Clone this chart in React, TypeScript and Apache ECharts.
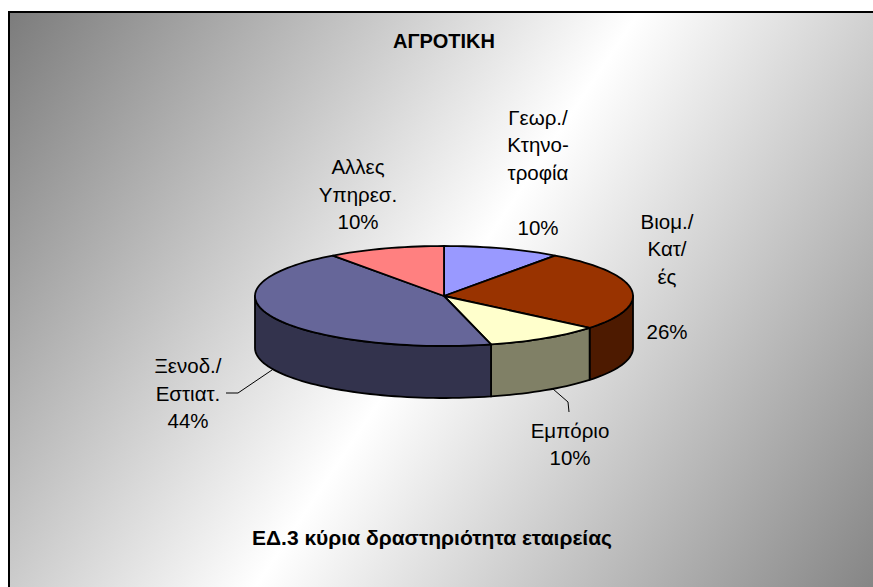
import React, { useEffect, useRef } from 'react';
import * as echarts from 'echarts';

const TITLE = 'ΑΓΡΟΤΙΚΗ';
const SUBTITLE = 'ΕΔ.3 κύρια δραστηριότητα εταιρείας';
const CATEGORIES = ['Γεωρ./\nΚτηνο-\nτροφία', 'Βιομ./\nΚατ/\nές', 'Εμπόριο', 'Ξενοδ./\nΕστιατ.', 'Αλλες\nΥπηρεσ.'];
const VALUES = [10, 26, 10, 44, 10];
const COLORS = ['#9999FF', '#993300', '#FFFFCC', '#666699', '#FF8080'];

// layout (not data)
const PIE = { cx: 444, cy: 296, rx: 189, ry: 50, depth: 52 };
const LABEL_LAYOUT = [
  { x: 538, y: 172, gap: true },
  { x: 667, y: 276, gap: true },
  { x: 570, y: 444, gap: false },
  { x: 188, y: 393, gap: false },
  { x: 358, y: 194, gap: false },
];
const LEADERS: number[][][] = [
  [],
  [],
  [[553, 389], [568, 402], [569, 412]],
  [[226, 393], [238, 393], [272, 370]],
  [],
];
const FONT = '"Liberation Sans", Arial, Helvetica, sans-serif';

function shade(hex: string, f: number): string {
  const n = parseInt(hex.slice(1), 16);
  const r = Math.round(((n >> 16) & 255) * f);
  const g = Math.round(((n >> 8) & 255) * f);
  const b = Math.round((n & 255) * f);
  return `rgb(${r},${g},${b})`;
}

const TOTAL = VALUES.reduce((s, v) => s + v, 0);
const STARTS: number[] = [];
VALUES.reduce((acc, v, i) => {
  STARTS[i] = acc;
  return acc + v;
}, 0);

function pt(tDeg: number, dz: number): number[] {
  const t = (tDeg * Math.PI) / 180;
  return [PIE.cx + PIE.rx * Math.sin(t), PIE.cy - PIE.ry * Math.cos(t) + dz];
}

function arc(a: number, b: number, dz: number): number[][] {
  const pts: number[][] = [];
  const steps = Math.max(2, Math.ceil((b - a) / 2));
  for (let k = 0; k <= steps; k++) pts.push(pt(a + ((b - a) * k) / steps, dz));
  return pts;
}

function renderItem(params: any, api: any) {
  const i = params.dataIndex;
  const v = api.value(0);
  const a = (STARTS[i] / TOTAL) * 360;
  const b = a + (v / TOTAL) * 360;
  const children: any[] = [];
  const edge = { stroke: '#000', lineWidth: 1.8, lineJoin: 'round' };

  const a2 = Math.max(a, 90);
  const b2 = Math.min(b, 270);
  if (a2 < b2) {
    const top = arc(a2, b2, 0);
    const bottom = arc(a2, b2, PIE.depth).reverse();
    children.push({
      type: 'polygon',
      shape: { points: top.concat(bottom) },
      style: { fill: shade(COLORS[i], 0.5), ...edge },
    });
  }
  children.push({
    type: 'polygon',
    shape: { points: [[PIE.cx, PIE.cy]].concat(arc(a, b, 0)) },
    style: { fill: COLORS[i], ...edge },
  });

  const pct = Math.round((v / TOTAL) * 100) + '%';
  const lay = LABEL_LAYOUT[i];
  children.push({
    type: 'text',
    style: {
      text: CATEGORIES[i] + (lay.gap ? '\n\n' : '\n') + pct,
      x: lay.x,
      y: lay.y,
      align: 'center',
      verticalAlign: 'middle',
      fontSize: 20.5,
      fontFamily: FONT,
      lineHeight: 27.5,
      fill: '#000',
    },
  });
  if (LEADERS[i].length) {
    children.push({
      type: 'polyline',
      shape: { points: LEADERS[i] },
      style: { stroke: '#000', lineWidth: 1, fill: null },
    });
  }
  return { type: 'group', children };
}

export default function App() {
  const ref = useRef<HTMLDivElement>(null);
  useEffect(() => {
    if (!ref.current) return;
    const chart = echarts.init(ref.current, null, { renderer: 'svg' });
    chart.setOption({
      animation: false,
      graphic: [
        {
          type: 'rect',
          z: -10,
          silent: true,
          shape: { x: 9, y: 12, width: 1000, height: 700 },
          style: {
            fill: new echarts.graphic.LinearGradient(
              9,
              12,
              881,
              594,
              [
                { offset: 0, color: '#7c7c7c' },
                { offset: 0.5, color: '#ffffff' },
                { offset: 1, color: '#838383' },
              ],
              true
            ),
          },
        },
        {
          type: 'polyline',
          z: -9,
          silent: true,
          shape: { points: [[9, 700], [9, 12], [1000, 12]] },
          style: { stroke: '#000', lineWidth: 2, fill: null },
        },
        {
          type: 'text',
          z: 10,
          style: {
            text: TITLE,
            x: 444,
            y: 41,
            align: 'center',
            verticalAlign: 'middle',
            fontSize: 20,
            fontWeight: 'bold',
            fontFamily: FONT,
            fill: '#000',
          },
        },
        {
          type: 'text',
          z: 10,
          style: {
            text: SUBTITLE,
            x: 432,
            y: 537,
            align: 'center',
            verticalAlign: 'middle',
            fontSize: 21,
            fontWeight: 'bold',
            fontFamily: FONT,
            fill: '#000',
          },
        },
      ],
      series: [
        {
          type: 'custom',
          coordinateSystem: 'none',
          renderItem,
          data: VALUES,
          z: 2,
        },
      ],
    });
    return () => chart.dispose();
  }, []);
  return (
    <div
      ref={ref}
      style={{ position: 'absolute', left: 0, top: 0, width: 873, height: 587, overflow: 'hidden' }}
    />
  );
}
